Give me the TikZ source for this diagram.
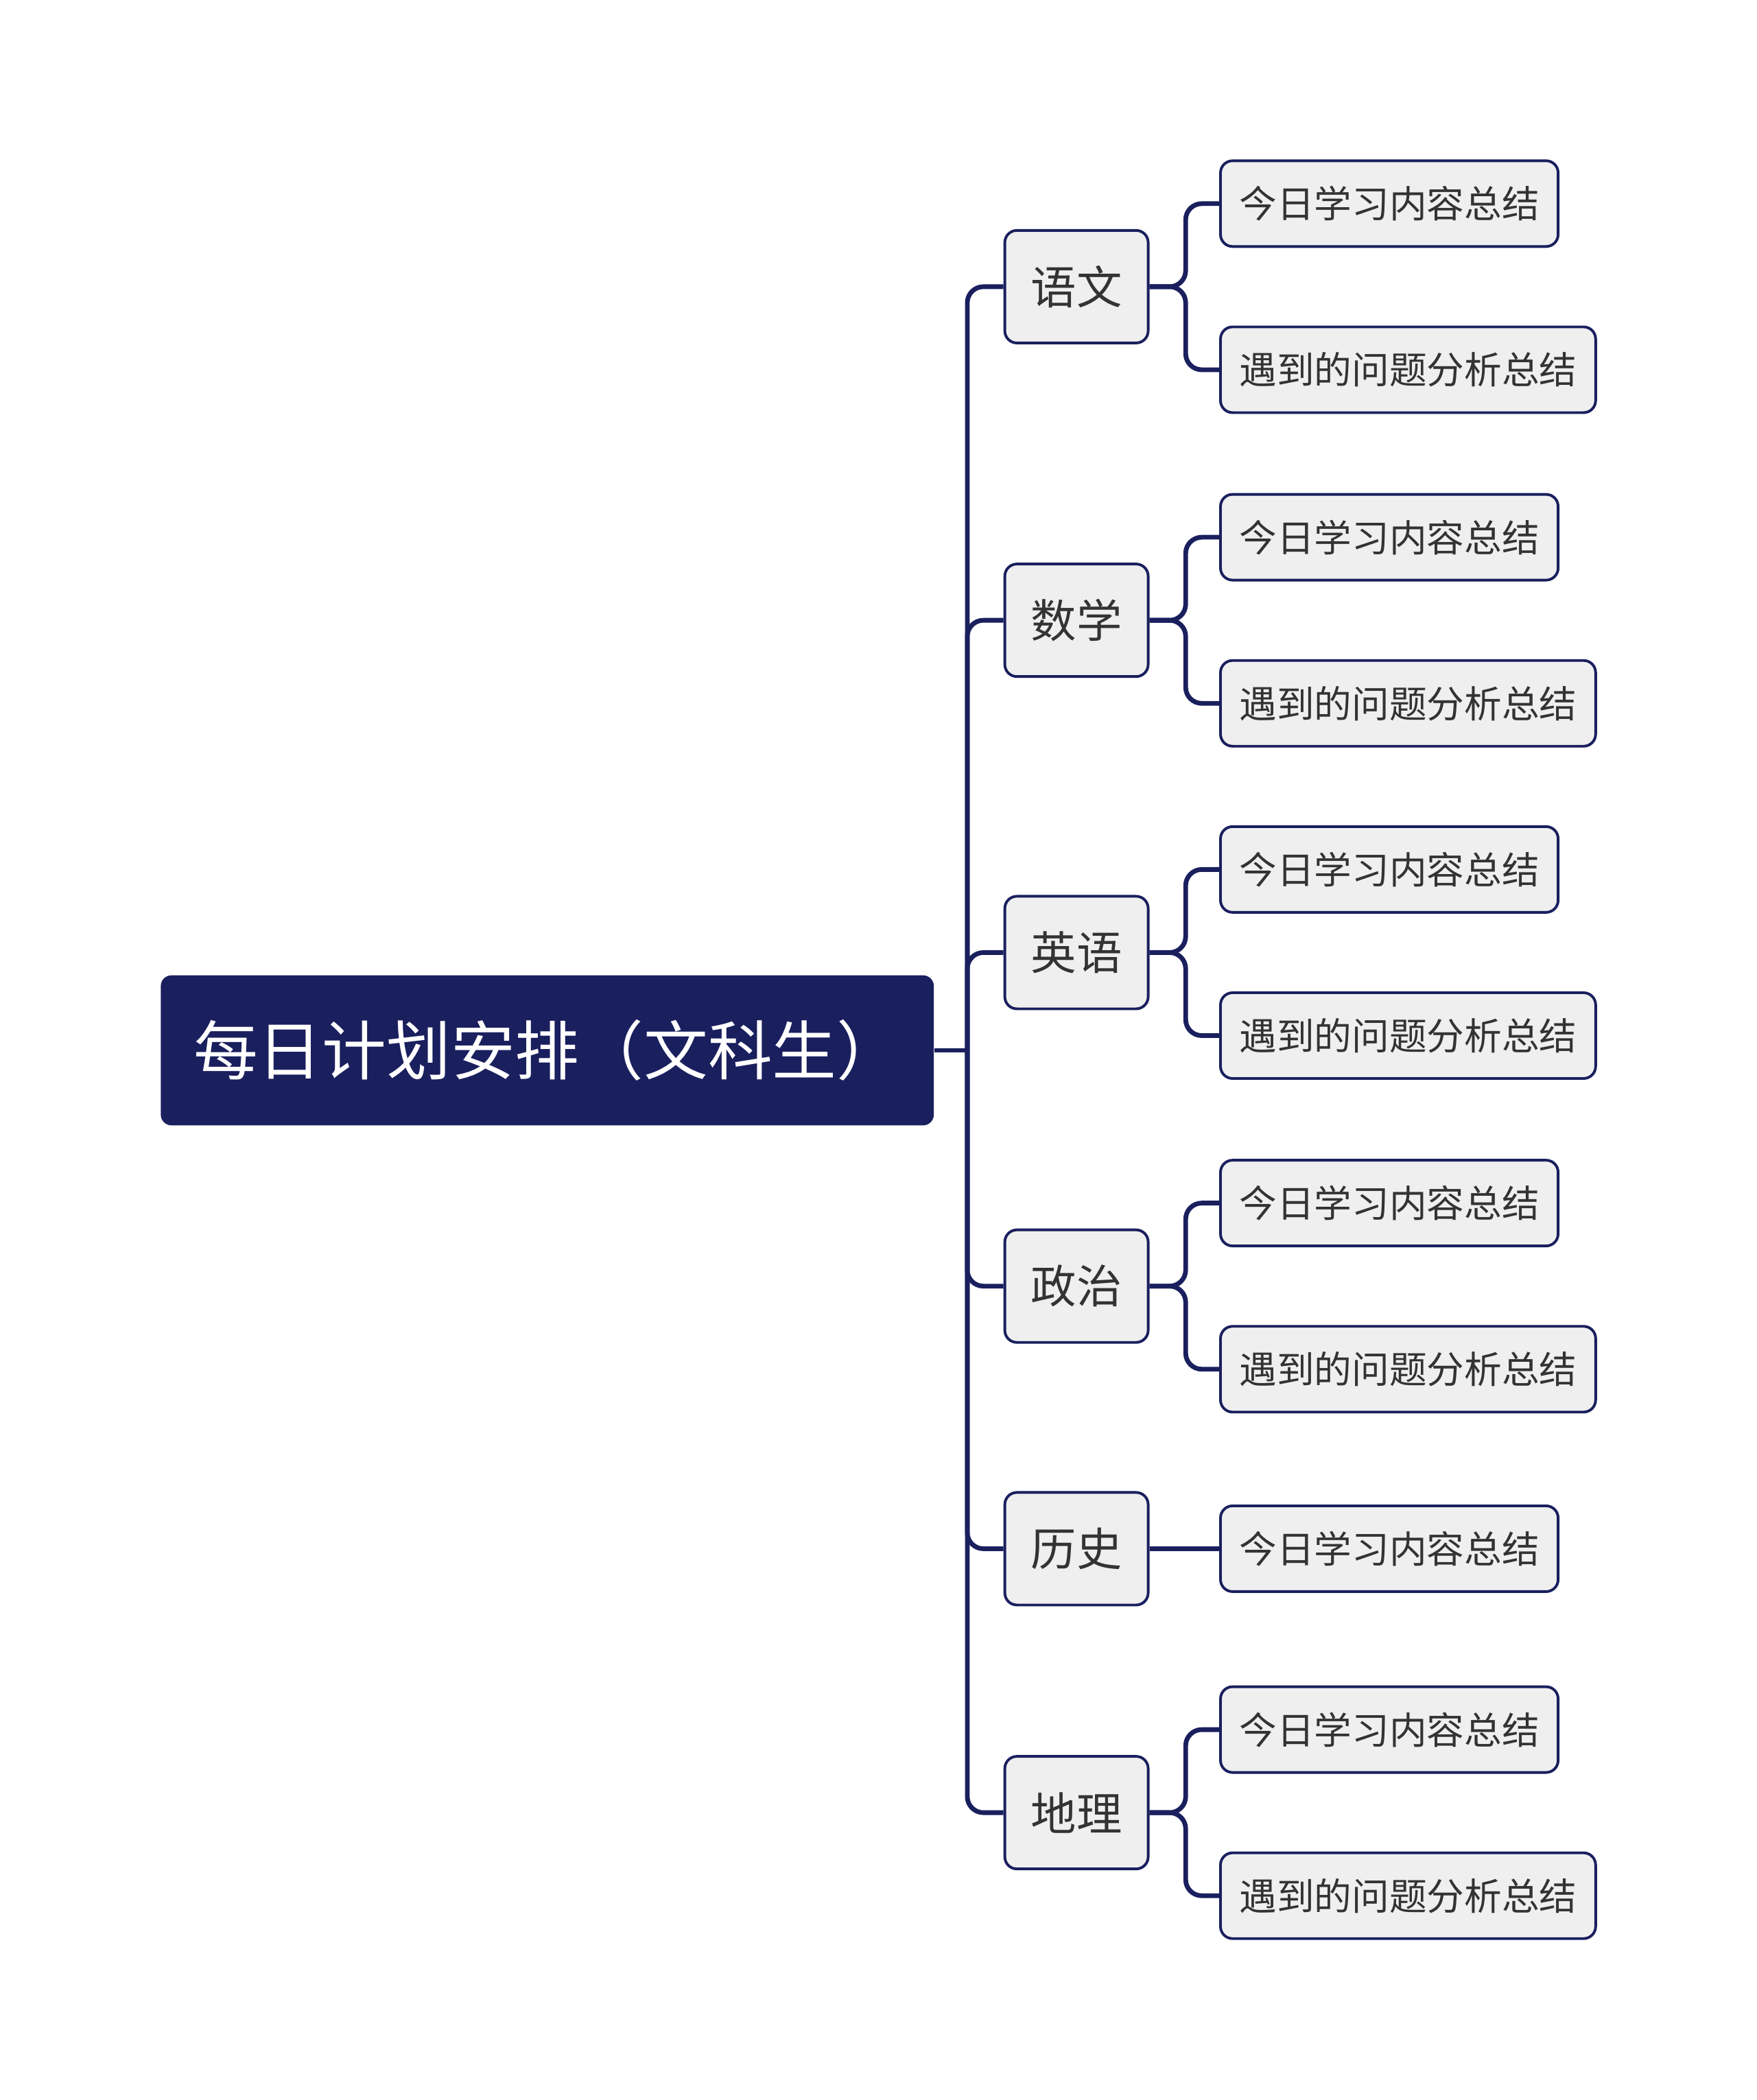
\documentclass[tikz,border=0pt]{standalone}
\usepackage{fontspec}
\setmainfont{Noto Sans CJK SC}
\definecolor{navy}{HTML}{1A1F5E}
\definecolor{boxgray}{HTML}{EFEFEF}
\definecolor{txt}{HTML}{333333}
\begin{document}
\begin{tikzpicture}[x=1pt,y=-1pt,
  rootbox/.style={fill=navy,rounded corners=8,minimum width=577,minimum height=112,text=white,font=\fontsize{48}{52}\selectfont,inner sep=0},
  lone/.style={draw=navy,line width=2,fill=boxgray,rounded corners=9,minimum width=107,minimum height=84,text=txt,font=\fontsize{34}{38}\selectfont,inner sep=0},
  ltwo/.style={draw=navy,line width=2,fill=boxgray,rounded corners=9,minimum height=64,anchor=west,text=txt,font=\fontsize{28}{31}\selectfont,inner xsep=14},
  conn/.style={draw=navy,line width=3.5,rounded corners=12}]
\useasboundingbox (0,0) rectangle (1311,1567.5);
\fill[white] (0,0) rectangle (1311,1567.5);
\node[rootbox] (root) at (408.5,784) {每日计划安排（文科生）};
\coordinate (t) at (722,784);
\draw[conn] (root.east) -- (t);
\foreach \n/\lab/\y in {a/语文/214,b/数学/463,c/英语/711,d/政治/960,e/历史/1156,f/地理/1353}{
  \node[lone] (\n) at (803.5,\y) {\lab};
  \draw[conn] (t) |- (\n.west);
}
\foreach \p/\y/\lab/\k in {a/152/今日学习内容总结/1,a/276/遇到的问题分析总结/2,b/401/今日学习内容总结/1,b/525/遇到的问题分析总结/2,c/649/今日学习内容总结/1,c/773/遇到的问题分析总结/2,d/898/今日学习内容总结/1,d/1022/遇到的问题分析总结/2,f/1291/今日学习内容总结/1,f/1415/遇到的问题分析总结/2}{
  \node[ltwo] (\p\k) at (910,\y) {\lab};
  \draw[conn] (\p.east) -- ++(27,0) |- (\p\k.west);
}
\node[ltwo] (e1) at (910,1156) {今日学习内容总结};
\draw[conn] (e.east) -- (e1.west);
\end{tikzpicture}
\end{document}
